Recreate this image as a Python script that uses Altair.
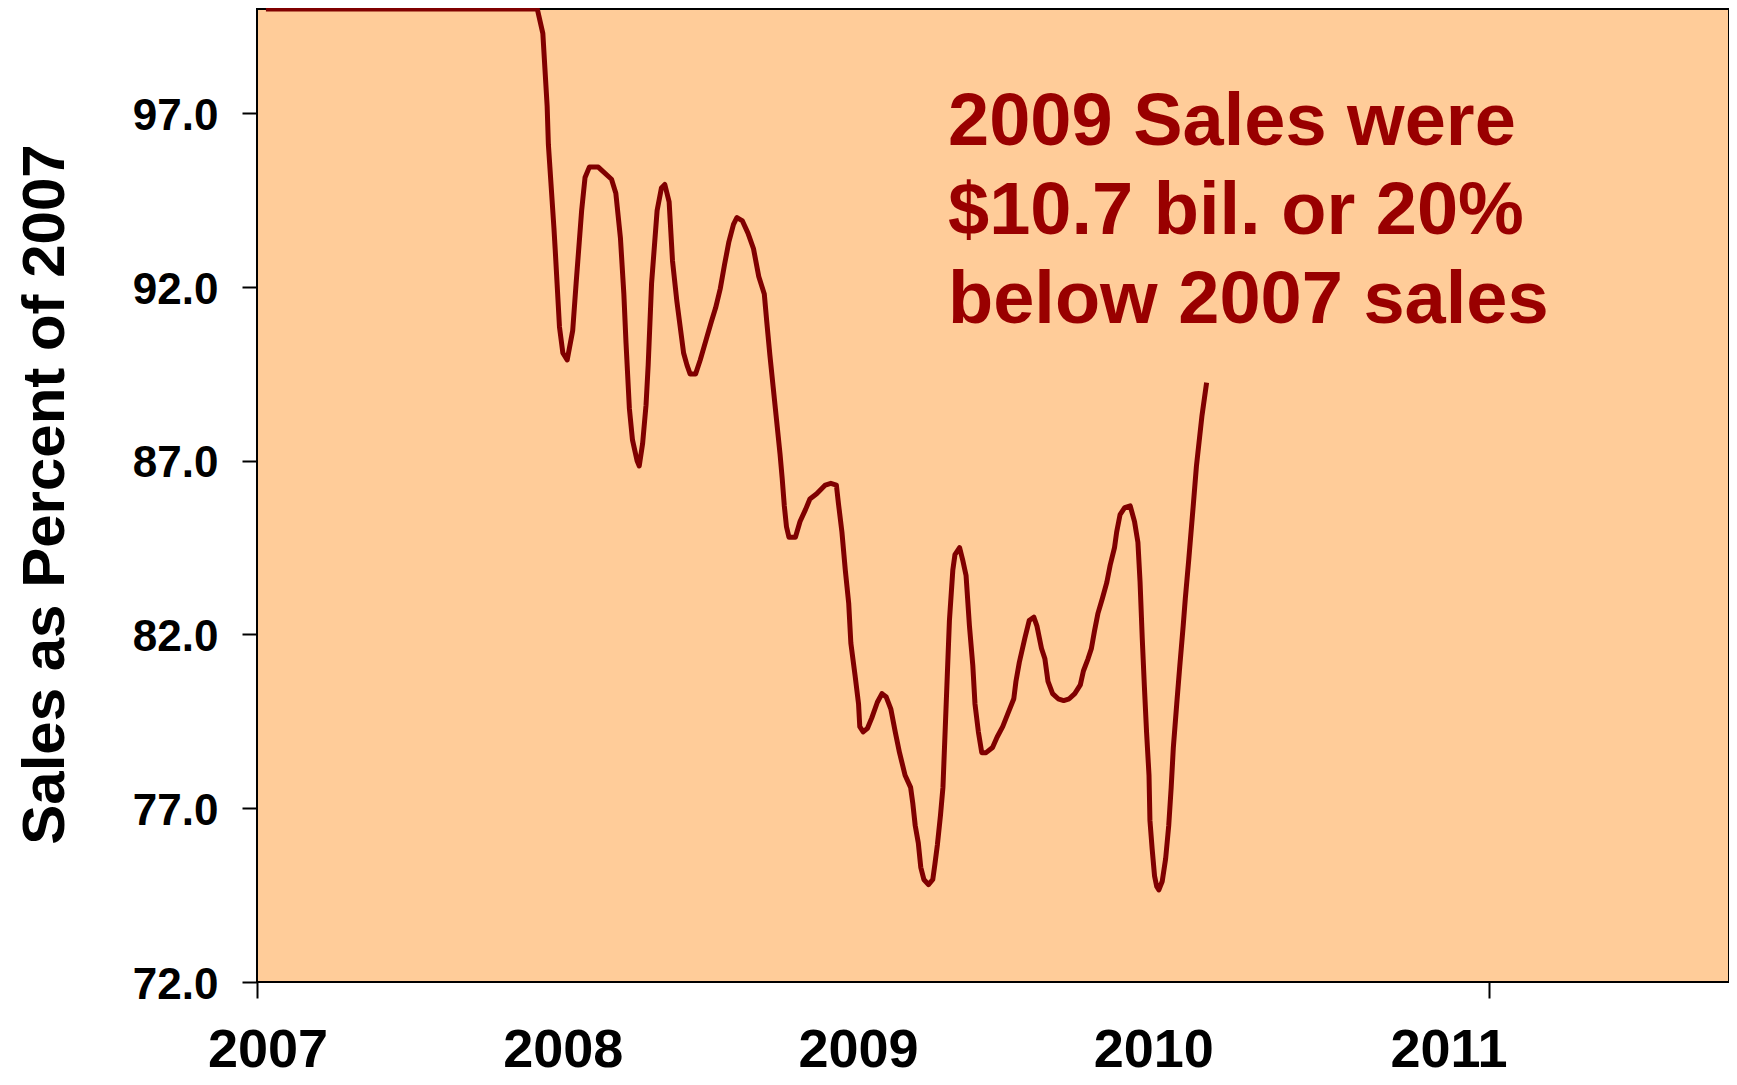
import altair as alt
import pandas as pd

# ---- data ----
years = [2007.029, 2007.849, 2007.910, 2007.928, 2007.942, 2007.946, 2007.964, 2007.968, 2007.982, 2007.993,
         2008.007, 2008.025, 2008.036, 2008.054, 2008.065, 2008.079, 2008.108, 2008.151, 2008.165, 2008.180,
         2008.191, 2008.198, 2008.209, 2008.219, 2008.234, 2008.241, 2008.252, 2008.263, 2008.270, 2008.281,
         2008.299, 2008.313, 2008.324, 2008.338, 2008.349, 2008.363, 2008.374, 2008.385, 2008.396, 2008.406,
         2008.424, 2008.439, 2008.457, 2008.475, 2008.489, 2008.504, 2008.518, 2008.532, 2008.547, 2008.558,
         2008.576, 2008.594, 2008.612, 2008.629, 2008.647, 2008.655, 2008.665, 2008.676, 2008.687, 2008.698,
         2008.705, 2008.712, 2008.719, 2008.727, 2008.748, 2008.763, 2008.781, 2008.795, 2008.817, 2008.845,
         2008.863, 2008.881, 2008.888, 2008.899, 2008.910, 2008.921, 2008.928, 2008.942, 2008.953, 2008.957,
         2008.968, 2008.982, 2008.996, 2009.014, 2009.029, 2009.043, 2009.058, 2009.072, 2009.086, 2009.104,
         2009.122, 2009.129, 2009.137, 2009.147, 2009.155, 2009.165, 2009.180, 2009.194, 2009.201, 2009.209,
         2009.219, 2009.227, 2009.234, 2009.241, 2009.248, 2009.259, 2009.266, 2009.281, 2009.291, 2009.302,
         2009.313, 2009.324, 2009.331, 2009.342, 2009.353, 2009.367, 2009.388, 2009.403, 2009.421, 2009.439,
         2009.457, 2009.464, 2009.475, 2009.493, 2009.507, 2009.522, 2009.532, 2009.547, 2009.558, 2009.568,
         2009.583, 2009.601, 2009.619, 2009.637, 2009.655, 2009.673, 2009.683, 2009.698, 2009.709, 2009.719,
         2009.730, 2009.745, 2009.759, 2009.770, 2009.784, 2009.791, 2009.802, 2009.817, 2009.835, 2009.849,
         2009.860, 2009.867, 2009.874, 2009.881, 2009.888, 2009.896, 2009.899, 2009.906, 2009.914, 2009.921,
         2009.928, 2009.939, 2009.950, 2009.960, 2009.968, 2009.975, 2009.986, 2009.996, 2010.007, 2010.014,
         2010.025, 2010.040, 2010.050, 2010.068, 2010.083]
values = [100.0, 100.0, 100.0, 99.3, 97.2, 96.1, 93.7, 93.1, 90.85, 90.1,
          89.9, 90.75, 92.1, 94.2, 95.15, 95.45, 95.45, 95.1, 94.7, 93.4,
          91.8, 90.4, 88.5, 87.6, 87.0, 86.85, 87.5, 88.6, 89.75, 92.1,
          94.2, 94.85, 94.95, 94.45, 92.75, 91.6, 90.85, 90.1, 89.75, 89.5,
          89.5, 89.9, 90.45, 91.0, 91.4, 91.95, 92.65, 93.3, 93.8, 94.0,
          93.9, 93.55, 93.1, 92.3, 91.8, 91.0, 90.05, 89.1, 88.15, 87.2,
          86.5, 85.7, 85.1, 84.8, 84.8, 85.25, 85.6, 85.9, 86.05, 86.3,
          86.35, 86.3, 85.75, 84.95, 83.85, 82.9, 81.75, 80.8, 80.0, 79.35,
          79.2, 79.3, 79.6, 80.05, 80.3, 80.2, 79.85, 79.2, 78.6, 77.95,
          77.6, 77.15, 76.5, 76.0, 75.3, 74.95, 74.8, 74.95, 75.4, 75.95,
          76.8, 77.6, 79.2, 80.8, 82.4, 83.85, 84.3, 84.5, 84.15, 83.7,
          82.25, 81.1, 80.0, 79.2, 78.6, 78.6, 78.75, 79.05, 79.35, 79.75,
          80.15, 80.65, 81.2, 81.9, 82.4, 82.5, 82.25, 81.6, 81.3, 80.65,
          80.3, 80.15, 80.1, 80.15, 80.3, 80.55, 80.95, 81.3, 81.6, 82.1,
          82.6, 83.05, 83.5, 84.0, 84.5, 84.95, 85.45, 85.65, 85.7, 85.25,
          84.65, 83.5, 81.9, 80.5, 79.2, 77.95, 76.65, 75.85, 75.05, 74.75,
          74.65, 74.9, 75.55, 76.5, 77.6, 78.75, 80.0, 81.1, 82.25, 83.05,
          84.15, 85.75, 86.85, 88.3, 89.25]
tick_years = [2007, 2011]
label_years = [2007, 2008, 2009, 2010, 2011]
label_texts = ["2007", "2008", "2009", "2010", "2011"]
y_ticks = [72, 77, 82, 87, 92, 97]
note_lines = ["2009 Sales were", "$10.7 bil. or 20%", "below 2007 sales"]

df = pd.DataFrame({"year": years, "value": values, "idx": list(range(len(years)))})
lab_df = pd.DataFrame({"year": label_years, "label": label_texts})
note_df = pd.DataFrame({"k": [0]})

FONT = "Liberation Sans"
W, H = 1472, 973

x_scale = alt.Scale(domain=[2007, 2011.779], nice=False, zero=False)
y_scale = alt.Scale(domain=[72, 100], nice=False, zero=False)

line = alt.Chart(df).mark_line(color="#800000", strokeWidth=5, strokeJoin="round").encode(
    x=alt.X("year:Q", scale=x_scale,
            axis=alt.Axis(values=tick_years, labels=False, domain=False, grid=False, title=None,
                          ticks=True, tickSize=16, tickColor="black", tickWidth=2)),
    y=alt.Y("value:Q", scale=y_scale,
            axis=alt.Axis(values=y_ticks, format=".1f", domain=False, grid=False,
                          ticks=True, tickSize=15, tickColor="black", tickWidth=2,
                          labelFont=FONT, labelFontSize=44, labelFontWeight="bold", labelColor="black",
                          labelPadding=24, labelOffset=3,
                          title="Sales as Percent of 2007", titleFont=FONT, titleFontSize=60,
                          titleFontWeight="bold", titleColor="black", titleAngle=270,
                          titleX=-194, titleY=485, titleAlign="center", titleBaseline="alphabetic")),
    order=alt.Order("idx:Q"),
)

note = alt.Chart(note_df).mark_text(
    text=note_lines, font=FONT, fontSize=74, fontWeight="bold", color="#990000",
    align="left", baseline="alphabetic", lineHeight=89,
).encode(x=alt.value(691), y=alt.value(136))

labels = alt.Chart(lab_df).mark_text(
    font=FONT, fontSize=54, fontWeight="bold", color="black", align="center", baseline="alphabetic",
).encode(
    x=alt.X("year:Q", scale=alt.Scale(domain=[2006.9627, 2011.9483], nice=False, zero=False), axis=None),
    y=alt.value(1058),
    text="label:N",
)

chart = alt.layer(line, note, labels).resolve_scale(x="independent").properties(
    width=W, height=H,
    background="white",
    autosize=alt.AutoSizeParams(type="none"),
    padding={"left": 249, "top": 1, "right": 0, "bottom": 95},
).configure_view(fill="#FFCC99", stroke="black", strokeWidth=2)

chart.save("out.html", embed_options={"renderer": "svg", "actions": False})
